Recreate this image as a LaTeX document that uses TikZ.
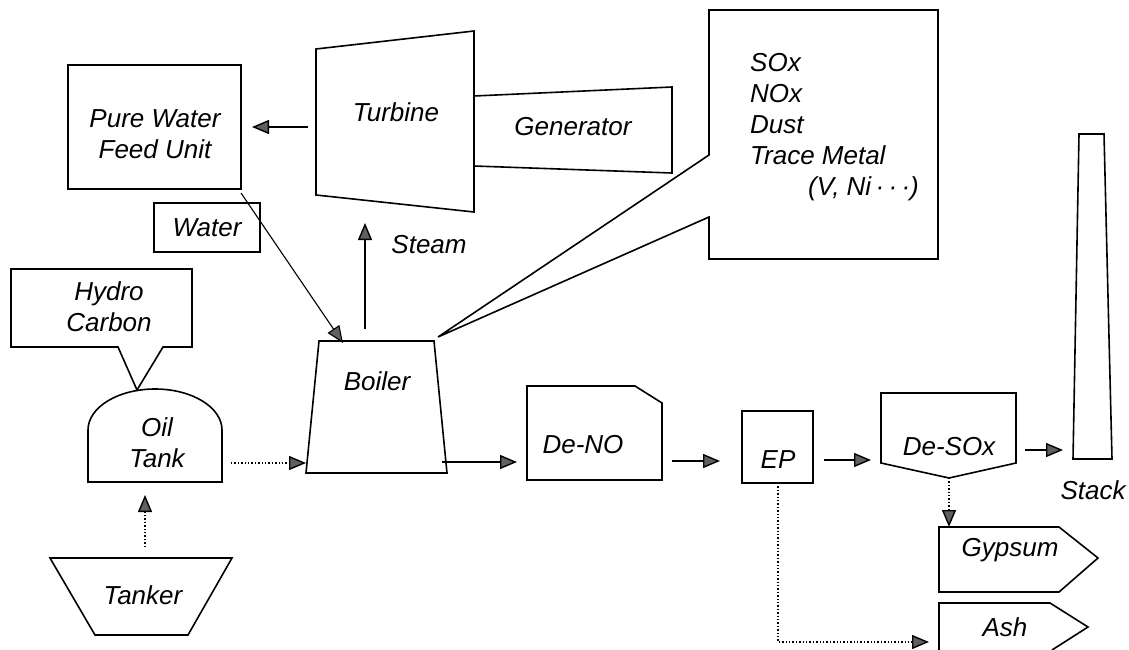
\documentclass[tikz,border=0pt]{standalone}
\usepackage{fontspec}
\setmainfont{Liberation Sans}
\usetikzlibrary{arrows.meta}
\begin{document}
\begin{tikzpicture}[x=1pt,y=-1pt,
  shp/.style={draw=black,line width=1.6pt,line join=miter},
  lbl/.style={inner sep=0pt,font=\fontsize{26}{31}\selectfont\itshape,align=center},
  tip/.style={-{Triangle[length=17pt,width=14pt,fill=gray!75!black]}},
  flow/.style={draw=black,line width=1.4pt,tip},
  dflow/.style={draw=black,line width=1.4pt,dotted,tip}]
\useasboundingbox (0,0) rectangle (1129,650);
\fill[white] (0,0) rectangle (1129,650);

% shapes
\draw[shp] (68,65) rectangle (241,189);
\draw[shp] (316,49) -- (474,31) -- (474,212) -- (316,195) -- cycle;
\draw[shp] (474,96) -- (672,87) -- (672,173) -- (474,166);
\draw[shp] (154,203) rectangle (260,252);
\draw[shp] (11,269) -- (192,269) -- (192,347) -- (163,347) -- (137,390) -- (118,347) -- (11,347) -- cycle;
\draw[shp] (88,482) -- (88,430) arc[start angle=180,end angle=360,x radius=67,y radius=41] -- (222,482) -- cycle;
\draw[shp] (319,341) -- (434,341) -- (447,473) -- (306,473) -- cycle;
\draw[shp] (50,558) -- (232,558) -- (188,635) -- (95,635) -- cycle;
\draw[shp] (709,10) -- (938,10) -- (938,259) -- (709,259) -- (709,217) -- (438,337) -- (709,155) -- cycle;
\draw[shp] (527,386) -- (635,386) -- (662,403) -- (662,480) -- (527,480) -- cycle;
\draw[shp] (742,411) rectangle (813,483);
\draw[shp] (881,393) -- (1016,393) -- (1016,463) -- (949,478) -- (881,463) -- cycle;
\draw[shp] (1079,134) -- (1104,134) -- (1112,459) -- (1073,459) -- cycle;
\draw[shp] (939,527) -- (1059,527) -- (1098,558) -- (1059,592) -- (939,592) -- cycle;
\draw[shp] (939,650) -- (939,603) -- (1050,603) -- (1088,627) -- (1052,650);

% labels
\node[lbl] (pw) at (155,134) {Pure Water\\Feed Unit};
\node[lbl] (turb) at (396,112) {Turbine};
\node[lbl] (gen) at (573,127) {Generator};
\node[lbl] (water) at (207,228) {Water};
\node[lbl] (steam) at (429,245) {Steam};
\node[lbl] (hc) at (109,307) {Hydro\\Carbon};
\node[lbl] (oil) at (157,443) {Oil\\Tank};
\node[lbl] (boiler) at (377,381) {Boiler};
\node[lbl] (tanker) at (143,595) {Tanker};
\node[lbl] (deno) at (583,445) {De-NO};
\node[lbl] (ep) at (778,460) {EP};
\node[lbl] (desox) at (949,447) {De-SOx};
\node[lbl] (stack) at (1093,490) {Stack};
\node[lbl] (gyp) at (1010,550) {Gypsum};
\node[lbl] (ash) at (1005,627) {Ash};
\node[lbl,align=left,anchor=west] (emis) at (750,127) {SOx\\NOx\\Dust\\Trace Metal\\\hspace{58pt}(V, Ni\,·\,·\,·)};

% connector end points
\coordinate (turbW) at (308,127);
\coordinate (pwE) at (252,127);
\coordinate (pwC) at (241,193);
\coordinate (boilT) at (343,343);
\coordinate (boilS) at (365,329);
\coordinate (turbS) at (365,223);
\coordinate (oilE) at (231,463);
\coordinate (boilW) at (306,463);
\coordinate (tankerN) at (145,547);
\coordinate (oilS) at (145,495);
\coordinate (boilE) at (442,462);
\coordinate (denoW) at (517,462);
\coordinate (denoE) at (672,461);
\coordinate (epW) at (720,461);
\coordinate (epE) at (824,460);
\coordinate (desoxW) at (871,460);
\coordinate (desoxE) at (1025,450);
\coordinate (stackW) at (1063,450);
\coordinate (desoxS) at (949,478);
\coordinate (gypN) at (949,527);
\coordinate (epS) at (778,483);
\coordinate (epBend) at (778,642);
\coordinate (ashW) at (929,642);

% connectors
\draw[flow] (turbW) -- (pwE);
\draw[flow,line width=1.1pt] (pwC) -- (boilT);
\draw[flow] (boilS) -- (turbS);
\draw[dflow] (oilE) -- (boilW);
\draw[dflow] (tankerN) -- (oilS);
\draw[flow] (boilE) -- (denoW);
\draw[flow] (denoE) -- (epW);
\draw[flow] (epE) -- (desoxW);
\draw[flow] (desoxE) -- (stackW);
\draw[dflow] (desoxS) -- (gypN);
\draw[dflow] (epS) -- (epBend) -- (ashW);
\end{tikzpicture}
\end{document}
